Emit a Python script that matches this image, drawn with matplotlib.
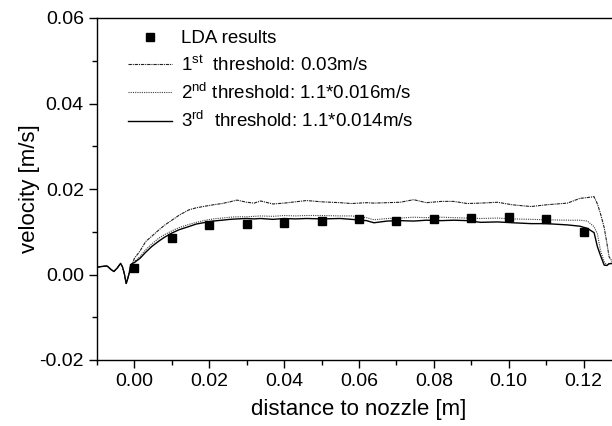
import numpy as np
import matplotlib
matplotlib.use("Agg")
from matplotlib import pyplot as plt
from matplotlib.ticker import MultipleLocator, FormatStrFormatter

plt.rcParams['font.family'] = ['Liberation Sans', 'DejaVu Sans']
plt.rcParams['mathtext.fontset'] = 'custom'
plt.rcParams['mathtext.rm'] = 'Liberation Sans'
plt.rcParams['mathtext.it'] = 'Liberation Sans:italic'
plt.rcParams['mathtext.bf'] = 'Liberation Sans:bold'

# LDA measurements
lda_x = [0.00, 0.01, 0.02, 0.03, 0.04, 0.05, 0.06, 0.07, 0.08, 0.09, 0.10, 0.11, 0.12]
lda_y = [0.0015, 0.0086, 0.0115, 0.0118, 0.0120, 0.0125, 0.0129, 0.0124, 0.0130,
         0.0133, 0.0134, 0.0129, 0.0099]

# common x grid of the simulated profiles
x = [-0.0100, -0.0085, -0.0073, -0.0063, -0.0055, -0.0046, -0.0037, -0.0032, -0.0027,
     -0.0022, -0.0018, -0.0014, -0.0010, -0.0005,
     0.0000, 0.0015, 0.0030, 0.0047, 0.0065, 0.0080, 0.0100, 0.0120, 0.0145, 0.0165,
     0.0190, 0.0210, 0.0234, 0.0255, 0.0274, 0.0300, 0.0320, 0.0337, 0.0370, 0.0400,
     0.0430, 0.0460, 0.0500, 0.0550, 0.0580, 0.0620, 0.0640, 0.0675, 0.0710, 0.0746,
     0.0780, 0.0820, 0.0853, 0.0889, 0.0925, 0.0970, 0.1010, 0.1060, 0.1100, 0.1157,
     0.1190, 0.1210, 0.1228, 0.1237, 0.1245, 0.1255, 0.1262, 0.1268, 0.1280, 0.1300]

# upstream part, identical for all thresholds
y_start = [0.0017, 0.0019, 0.0020, 0.0012, 0.0007, 0.0015, 0.0026, 0.0018, 0.0002,
           -0.0021, -0.0010, 0.0003, 0.0022, 0.0026]

y_th1 = y_start + [
    0.0038, 0.0055, 0.0077, 0.0090, 0.0104, 0.0115, 0.0127, 0.0139, 0.0151, 0.0156,
    0.0160, 0.0163, 0.0166, 0.0170, 0.0174, 0.0169, 0.0167, 0.0172, 0.0165, 0.0167,
    0.0170, 0.0173, 0.0170, 0.0168, 0.0166, 0.0168, 0.0167, 0.0168, 0.0169, 0.0175,
    0.0168, 0.0171, 0.0171, 0.0166, 0.0167, 0.0169, 0.0163, 0.0159, 0.0163, 0.0167,
    0.0178, 0.0180, 0.0182, 0.0165, 0.0143, 0.0110, 0.0075, 0.0042, 0.0025, 0.0026]

y_th2 = y_start + [
    0.0030, 0.0042, 0.0058, 0.0072, 0.0085, 0.0093, 0.0102, 0.0110, 0.0117, 0.0122,
    0.0127, 0.0130, 0.0132, 0.0134, 0.0135, 0.0135, 0.0136, 0.0137, 0.0136, 0.0138,
    0.0137, 0.0138, 0.0138, 0.0137, 0.0137, 0.0133, 0.0128, 0.0131, 0.0132, 0.0134,
    0.0133, 0.0134, 0.0133, 0.0132, 0.0131, 0.0132, 0.0130, 0.0129, 0.0128, 0.0127,
    0.0127, 0.0125, 0.0112, 0.0095, 0.0057, 0.0030, 0.0022, 0.0026, 0.0027, 0.0027]

y_th3 = y_start + [
    0.0028, 0.0038, 0.0052, 0.0066, 0.0078, 0.0087, 0.0097, 0.0105, 0.0112, 0.0118,
    0.0122, 0.0125, 0.0127, 0.0129, 0.0130, 0.0131, 0.0130, 0.0131, 0.0129, 0.0131,
    0.0130, 0.0131, 0.0130, 0.0131, 0.0129, 0.0126, 0.0121, 0.0125, 0.0126, 0.0125,
    0.0127, 0.0126, 0.0127, 0.0126, 0.0122, 0.0123, 0.0121, 0.0119, 0.0119, 0.0116,
    0.0113, 0.0108, 0.0098, 0.0065, 0.0045, 0.0022, 0.0021, 0.0025, 0.0026, 0.0026]

labels = ["LDA results",
          r"1$^{\mathrm{st}}$  threshold: 0.03m/s",
          r"2$^{\mathrm{nd}}$ threshold: 1.1*0.016m/s",
          r"3$^{\mathrm{rd}}$  threshold: 1.1*0.014m/s"]

fig = plt.figure(figsize=(6.12, 4.26), dpi=100)
# axes run past the right edge of the canvas, as in the cropped original
ax = fig.add_axes([97 / 612, 66 / 426, 524 / 612, 342 / 426])

ax.plot(lda_x, lda_y, 's', color='black', markersize=5.5, label=labels[0], zorder=5)
ax.plot(x, y_th1, color='#202020', lw=0.8, linestyle=(0, (3, 0.8, 1, 0.8)),
        label=labels[1])
ax.plot(x, y_th2, color='#404040', lw=0.8, linestyle=(0, (1, 1)), label=labels[2])
ax.plot(x, y_th3, color='black', lw=1.0, linestyle='-', label=labels[3])

ax.set_xlim(-0.01, 0.13)
ax.set_ylim(-0.02, 0.06)
ax.xaxis.set_major_locator(MultipleLocator(0.02))
ax.xaxis.set_minor_locator(MultipleLocator(0.01))
ax.yaxis.set_major_locator(MultipleLocator(0.02))
ax.yaxis.set_minor_locator(MultipleLocator(0.01))
ax.xaxis.set_major_formatter(FormatStrFormatter('%.2f'))
ax.yaxis.set_major_formatter(FormatStrFormatter('%.2f'))
ax.tick_params(which='major', direction='out', length=6, width=1, labelsize=14,
               top=False, right=False)
ax.tick_params(which='minor', direction='out', length=3.5, width=1,
               top=False, right=False)
for sp in ax.spines.values():
    sp.set_linewidth(1.0)

ax.set_xlabel("distance to nozzle [m]", fontsize=16, labelpad=6)
ax.set_ylabel("velocity [m/s]", fontsize=16)
ax.yaxis.set_label_coords(-0.109, 0.5)

leg = ax.legend(loc='upper left', bbox_to_anchor=(128 / 612, 1 - 30 / 426),
                bbox_transform=fig.transFigure, frameon=False, fontsize=13.5,
                handlelength=2.35, handletextpad=0.5, labelspacing=0.43,
                borderpad=0, borderaxespad=0)

fig.savefig("out.png", dpi=100)
